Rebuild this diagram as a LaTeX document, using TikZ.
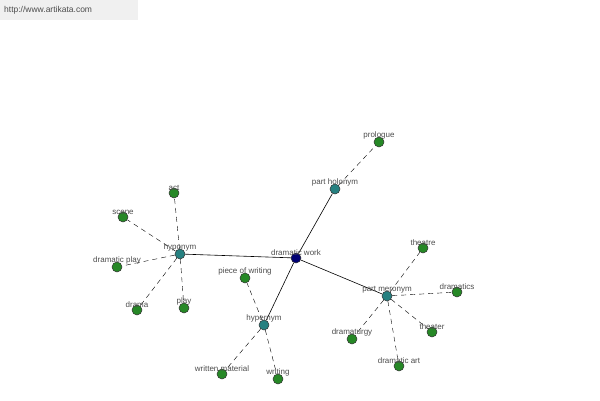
\documentclass[tikz,border=0pt]{standalone}
\usepackage{fontspec}
\setmainfont{Liberation Sans}
\begin{document}
\begin{tikzpicture}[x=1pt,y=-1pt,
  dot/.style={circle,draw=black!80,line width=0.5pt,inner sep=0pt,minimum size=10pt,fill=#1},
  leaf/.style={dot=green!45!black!85},
  rel/.style={dot=teal!70!gray},
  lab/.style={font=\fontsize{8}{9}\selectfont,text=black!70,inner sep=0pt},
  dashline/.style={dash pattern=on 5pt off 4pt,black},
  solidline/.style={black,line width=0.6pt}]
\useasboundingbox (0,0) rectangle (600,400);
\fill[black!6] (0,0) rectangle (138,20);
\node[lab,anchor=west,font=\fontsize{8.5}{10}\selectfont] (url) at (4,10) {http://www.artikata.com};
\node[dot=blue!45!black] (dw) at (296,258) {};
\node[rel] (hypo) at (180,254) {};
\node[rel] (hyper) at (264,325) {};
\node[rel] (hol) at (335,189) {};
\node[rel] (mer) at (387,296) {};
\foreach \n/\x/\y in {act/174/193,scene/123/217,dplay/117/267,drama/137/310,play/184/308,pow/245/278,wm/222/374,writing/278/379,prologue/379/142,theatre/423/248,dramatics/457/292,theater/432/332,dramaturgy/352/339,dart/399/366}
  \node[leaf] (\n) at (\x,\y) {};
\draw[solidline] (hypo)--(dw) (hyper)--(dw) (hol)--(dw) (mer)--(dw);
\foreach \a/\b in {hypo/act,hypo/scene,hypo/dplay,hypo/drama,hypo/play,hyper/pow,hyper/wm,hyper/writing,hol/prologue,mer/theatre,mer/dramatics,mer/theater,mer/dramaturgy,mer/dart}
  \draw[dashline] (\a)--(\b);
\foreach \n/\t in {dw/dramatic work,hypo/hyponym,hyper/hypernym,hol/part holonym,mer/part meronym,act/act,scene/scene,dplay/dramatic play,drama/drama,play/play,pow/piece of writing,wm/written material,writing/writing,prologue/prologue,theatre/theatre,dramatics/dramatics,theater/theater,dramaturgy/dramaturgy,dart/dramatic art}
  \node[lab,anchor=south] at ([yshift=-3pt]\n.north) {\t};
\end{tikzpicture}
\end{document}
